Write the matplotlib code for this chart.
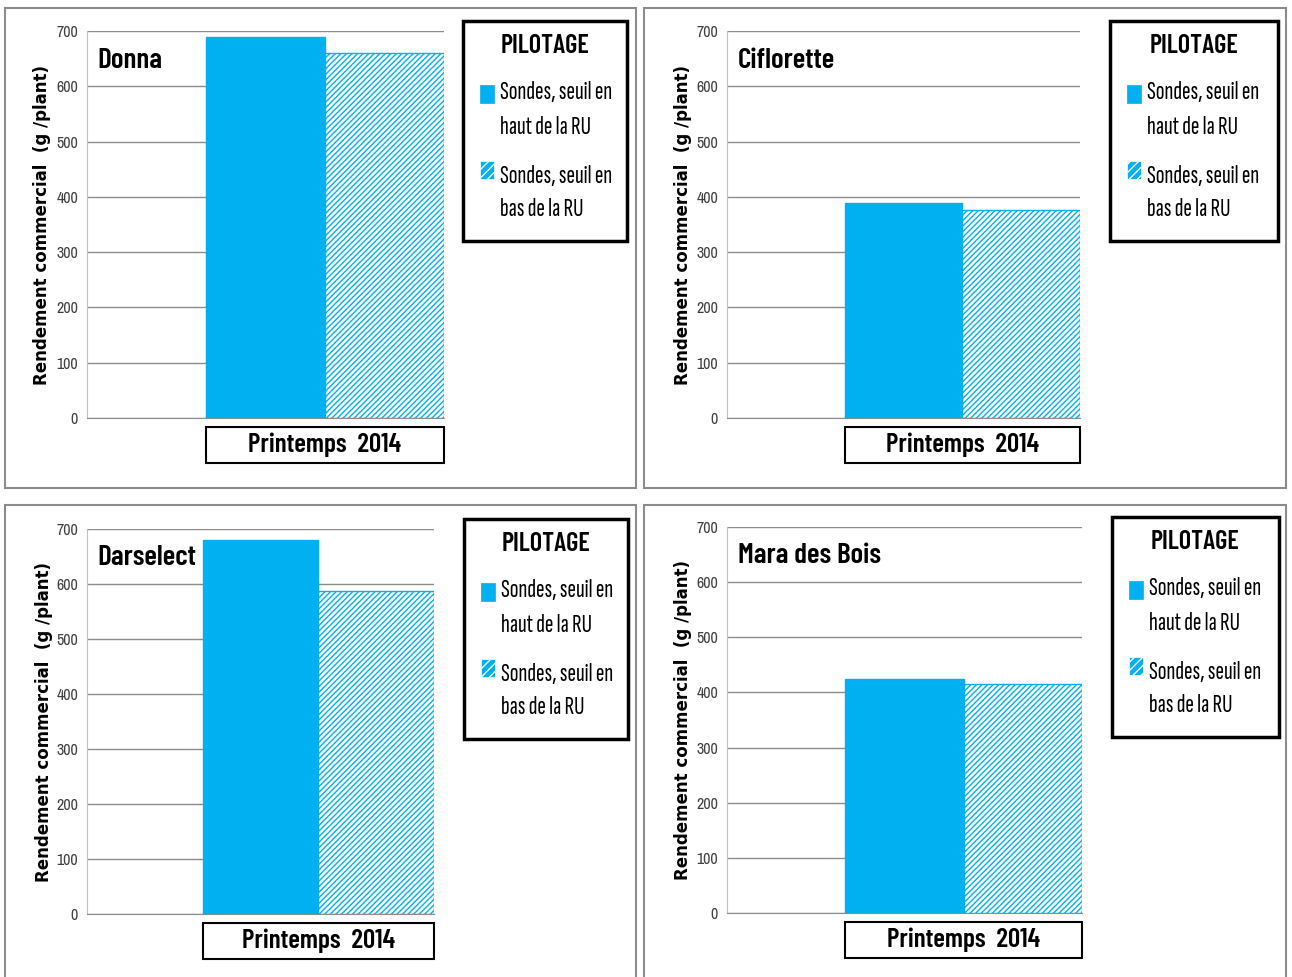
import numpy as np
import matplotlib
matplotlib.use("Agg")
import matplotlib.pyplot as plt
from matplotlib.patches import Rectangle
from matplotlib import font_manager

# rendement commercial (g/plant), printemps 2014
varietes = ["Donna", "Ciflorette", "Darselect", "Mara des Bois"]
haut_RU = [689, 389, 680, 424]   # sondes, seuil en haut de la RU
bas_RU = [661, 376, 587, 415]    # sondes, seuil en bas de la RU
saison = "Printemps  2014"
legend_title = "PILOTAGE"
legend_labels = ["Sondes, seuil en\nhaut de la RU", "Sondes, seuil en\nbas de la RU"]
yticks = [0, 100, 200, 300, 400, 500, 600, 700]

BLUE = "#00B0F0"
W, H = 1292, 977

installed = {f.name for f in font_manager.fontManager.ttflist}


def pick(*names):
    for n in names:
        if n in installed:
            return [n, "DejaVu Sans"]
    return ["DejaVu Sans"]


NARROW = pick("Archivo Narrow")
COND = pick("Sofia Sans Extra Condensed", "Saira Extra Condensed", "Barlow Condensed",
            "Asap Condensed")
COND_BOLD = pick("Barlow Condensed", "Asap Condensed")

# pixel layout of each panel: axes (left, top, right, bottom), border, legend box
layout = [
    dict(ax=(87, 31, 444, 418), border=(5, 8, 636, 488), leg=(463, 21, 627, 241)),
    dict(ax=(727, 31, 1080, 418), border=(644, 8, 1286, 488), leg=(1110, 21, 1278, 241)),
    dict(ax=(87, 529, 434, 914), border=(5, 505, 636, 985), leg=(464, 519, 628, 739)),
    dict(ax=(727, 527, 1082, 913), border=(644, 505, 1286, 985), leg=(1112, 517, 1279, 737)),
]


def fig_rect(l, t, r, b):
    return [l / W, 1 - b / H, (r - l) / W, (b - t) / H]


def fx(x):
    return x / W


def fy(y):
    return 1 - y / H


fig = plt.figure(figsize=(W / 100, H / 100), dpi=100)

for i, name in enumerate(varietes):
    lay = layout[i]
    # panel border
    l, b, w, h = fig_rect(*lay["border"])
    fig.patches.append(Rectangle((l, b), w, h, transform=fig.transFigure,
                                 fill=False, edgecolor="#8c8c8c", linewidth=1.5))

    ax = fig.add_axes(fig_rect(*lay["ax"]))
    ax.bar(-0.25, haut_RU[i], width=0.5, color=BLUE, edgecolor=BLUE, linewidth=1)
    ax.bar(0.25, bas_RU[i], width=0.5, facecolor="white", edgecolor=BLUE,
           hatch="//////", linewidth=1)
    ax.set_xlim(-1, 0.5)
    ax.set_ylim(0, 700)
    ax.set_yticks(yticks)
    ax.set_yticklabels([str(v) for v in yticks], fontfamily=NARROW, fontsize=11.5,
                       color="#404040")
    ax.yaxis.grid(True, color="#8c8c8c", linewidth=1)
    ax.set_axisbelow(True)
    ax.tick_params(axis="y", length=0, pad=6.5)
    ax.set_xticks([])
    for s in ["top", "right"]:
        ax.spines[s].set_visible(False)
    ax.spines["left"].set_color("#c0c0c0")
    ax.spines["bottom"].set_color("#8c8c8c")

    ax.set_ylabel("Rendement commercial  (g /plant)", fontweight="bold",
                  fontsize=12, color="black", va="center")
    ax.yaxis.set_label_coords(-0.125, 0.5)

    ax.text(0.03, 0.925, name, transform=ax.transAxes, fontfamily=COND_BOLD,
            fontsize=21, fontweight="semibold", va="center", ha="left")

    # category label box
    ax.add_patch(Rectangle((1 / 3, -0.116), 2 / 3, 0.093, transform=ax.transAxes,
                           fill=False, edgecolor="black", linewidth=1.5, clip_on=False))
    ax.text(2 / 3, -0.07, saison, transform=ax.transAxes, fontfamily=COND_BOLD,
            fontsize=19.5, fontweight="semibold", ha="center", va="center")

    # legend box, drawn by hand
    ll, lt, lr, lb = lay["leg"]
    l, b, w, h = fig_rect(*lay["leg"])
    fig.patches.append(Rectangle((l, b), w, h, transform=fig.transFigure,
                                 fill=False, edgecolor="black", linewidth=2.5))
    fig.text(fx((ll + lr) / 2), fy(lt + 25), legend_title, fontfamily=COND_BOLD,
             fontweight="semibold", fontsize=19, ha="center", va="center")
    styles = [dict(facecolor=BLUE, edgecolor=BLUE),
              dict(facecolor=BLUE, edgecolor="white", hatch="////")]
    for k, lab in enumerate(legend_labels):
        hc = lt + 73 + k * 76
        fig.patches.append(Rectangle((fx(ll + 17), fy(hc + 9)), 14 / W, 18 / H,
                                     transform=fig.transFigure, linewidth=0.5,
                                     **styles[k]))
        for j, line in enumerate(lab.split("\n")):
            fig.text(fx(ll + 37), fy(lt + 72 + k * 83 + j * 34), line,
                     fontfamily=COND, fontsize=18.5, ha="left", va="center")

fig.savefig("out.png", dpi=100)
